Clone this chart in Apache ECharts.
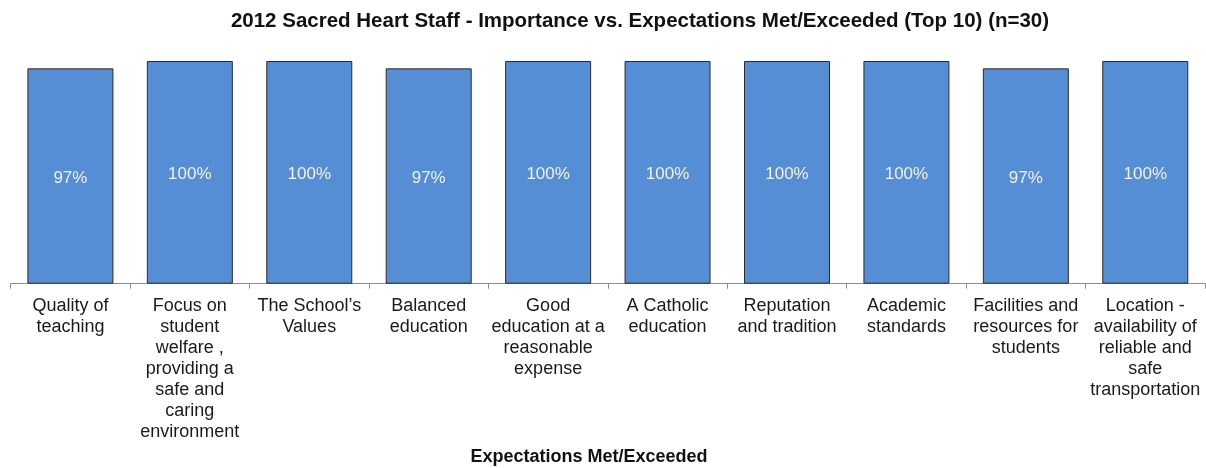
<!DOCTYPE html>
<html>
<head>
<meta charset="utf-8">
<script src="https://cdn.jsdelivr.net/npm/echarts@6/dist/echarts.min.js"></script>
<style>
  html, body { margin: 0; padding: 0; background: #fff; }
  #chart { width: 1206px; height: 468px; }
</style>
</head>
<body>
<div id="chart"></div>
<script>
const categories = [
  'Quality of\nteaching',
  'Focus on\nstudent\nwelfare ,\nproviding a\nsafe and\ncaring\nenvironment',
  'The School\u2019s\nValues',
  'Balanced\neducation',
  'Good\neducation at a\nreasonable\nexpense',
  'A Catholic\neducation',
  'Reputation\nand tradition',
  'Academic\nstandards',
  'Facilities and\nresources for\nstudents',
  'Location -\navailability of\nreliable and\nsafe\ntransportation'
]
const values = [96.7, 100, 100, 96.7, 100, 100, 100, 100, 96.7, 100]

const chart = echarts.init(document.getElementById('chart'))
chart.setOption({
  animation: false,
  title: [{
    text: '2012 Sacred Heart Staff - Importance vs. Expectations Met/Exceeded (Top 10) (n=30)',
    left: 635,
    textAlign: 'center',
    top: 6,
    textStyle: {
      fontFamily: 'Liberation Sans',
      fontSize: 20.5,
      fontWeight: 'bold',
      color: '#111'
    }
  }, {
    text: 'Expectations Met/Exceeded',
    left: 584,
    textAlign: 'center',
    top: 443,
    textStyle: {
      fontFamily: 'Liberation Sans',
      fontSize: 18,
      fontWeight: 'bold',
      color: '#111'
    }
  }],
  grid: {
    left: 10.7,
    right: 1,
    top: 61,
    bottom: 184.3,
    containLabel: false
  },
  xAxis: {
    type: 'category',
    data: categories,
    axisLine: { lineStyle: { color: '#8c8c8c', width: 1 } },
    axisTick: { show: true, length: 5, lineStyle: { color: '#8c8c8c' } },
    axisLabel: {
      interval: 0,
      margin: 12,
      fontFamily: 'Liberation Sans',
      fontSize: 18,
      lineHeight: 21,
      color: '#1a1a1a'
    }
  },
  yAxis: {
    type: 'value',
    min: 0,
    max: 100,
    show: false,
    splitLine: { show: false }
  },
  series: [{
    type: 'bar',
    data: values,
    barCategoryGap: '28%',
    itemStyle: {
      color: '#558ed5',
      borderColor: '#2b2b2b',
      borderWidth: 1
    },
    label: {
      show: true,
      position: 'inside',
      offset: [0, 2],
      formatter: p => Math.round(p.value) + '%',
      fontFamily: 'Liberation Sans',
      fontSize: 17,
      color: '#f2f2f2'
    }
  }]
})
</script>
</body>
</html>
